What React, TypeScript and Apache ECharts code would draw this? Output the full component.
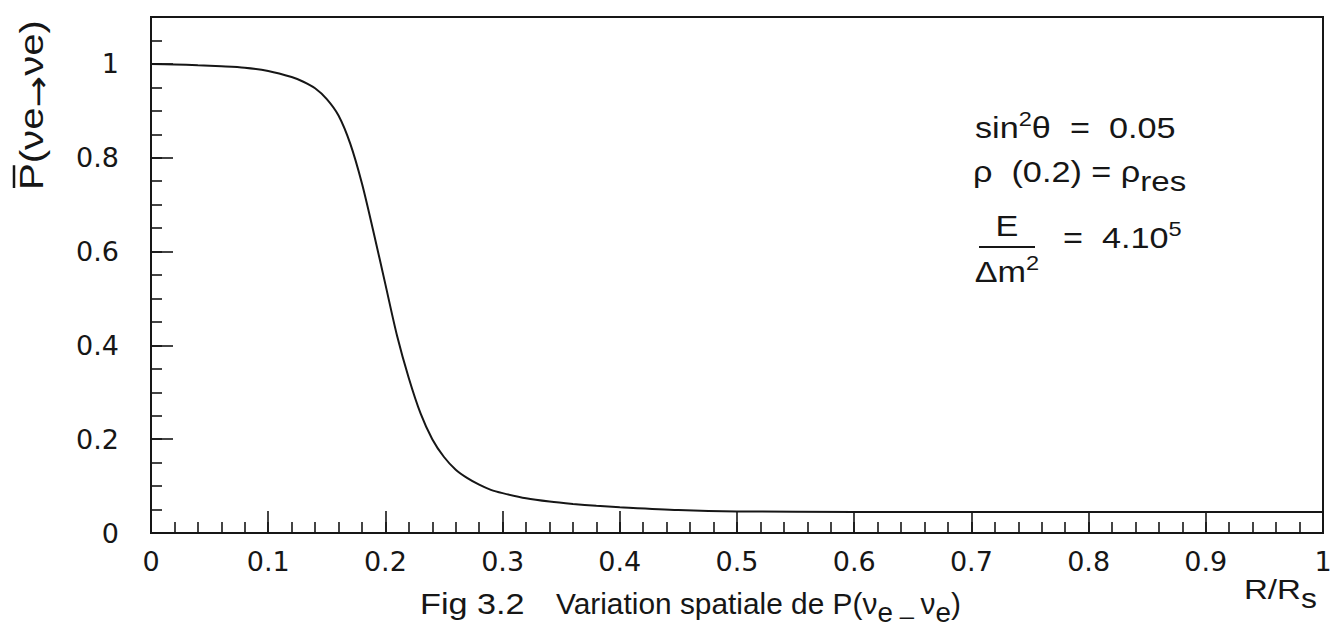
import React, { useEffect, useRef } from "react";
import * as echarts from "echarts";

// ---- data ----
const rValues = [0, 0.02, 0.04, 0.06, 0.08, 0.1, 0.12, 0.13, 0.14, 0.15, 0.16, 0.17, 0.18, 0.19, 0.2, 0.21, 0.22, 0.23, 0.24, 0.25, 0.26, 0.27, 0.28, 0.29, 0.3, 0.32, 0.34, 0.36, 0.38, 0.4, 0.45, 0.5, 0.6, 0.7, 0.8, 0.9, 1.0];
const pValues = [1.0, 0.999, 0.997, 0.995, 0.992, 0.985, 0.972, 0.962, 0.948, 0.925, 0.89, 0.83, 0.745, 0.64, 0.53, 0.42, 0.33, 0.255, 0.2, 0.162, 0.135, 0.117, 0.103, 0.092, 0.085, 0.074, 0.067, 0.062, 0.058, 0.055, 0.049, 0.046, 0.045, 0.045, 0.045, 0.045, 0.045];
const xMajorTicks = [0, 0.1, 0.2, 0.3, 0.4, 0.5, 0.6, 0.7, 0.8, 0.9, 1];
const yMajorTicks = [0, 0.2, 0.4, 0.6, 0.8, 1];

const FONT = '"Liberation Sans", Arial, Helvetica, sans-serif';
const TICK_FONT = '"DejaVu Sans", "Liberation Sans", sans-serif';
const INK = "#161616";
const SX = 1.18; // the scanned figure is horizontally wide

type Frag = { t: string; s: number; dy?: number; f?: string };

let measureCtx: CanvasRenderingContext2D | null = null;
function tw(text: string, size: number, font: string = FONT): number {
  if (!measureCtx) measureCtx = document.createElement("canvas").getContext("2d");
  measureCtx!.font = `${size}px ${font}`;
  return measureCtx!.measureText(text).width;
}

function lineOf(frags: Frag[], x0: number, y0: number, align: "left" | "center" | "right" = "left", sx = SX): any[] {
  const widths = frags.map((f) => tw(f.t, f.s, f.f || FONT) * sx);
  const total = widths.reduce((a, b) => a + b, 0);
  let x = align === "left" ? x0 : align === "right" ? x0 - total : x0 - total / 2;
  return frags.map((f, i) => {
    const el = {
      type: "text",
      x,
      y: y0 + (f.dy || 0),
      scaleX: sx,
      silent: true,
      style: {
        text: f.t,
        fontSize: f.s,
        fontFamily: f.f || FONT,
        fill: INK,
        align: "left",
        verticalAlign: "middle",
      },
    };
    x += widths[i];
    return el;
  });
}

export default function App() {
  const ref = useRef<HTMLDivElement>(null);

  useEffect(() => {
    const chart = echarts.init(ref.current!, null, { renderer: "svg" });

    const data = rValues.map((r, i) => [r, pValues[i]]);

    const yNameFrags: Frag[] = [
      { t: "P", s: 34 },
      { t: "(νe", s: 34 },
      { t: "→", s: 32, dy: 7, f: TICK_FONT },
      { t: "νe)", s: 34 },
    ];
    const pW = tw("P", 34) * SX;

    const graphics: any[] = [
      // y-axis name, rotated
      {
        type: "group",
        x: 31,
        y: 190,
        rotation: Math.PI / 2,
        children: [
          ...lineOf(yNameFrags, 0, 0, "left"),
          { type: "line", shape: { x1: 2, y1: -17, x2: pW - 2, y2: -17 }, style: { stroke: INK, lineWidth: 2.5 } },
        ],
      },
      // x-axis name
      ...lineOf([{ t: "R/R", s: 28 }, { t: "s", s: 27, dy: 9 }], 1244, 589, "left"),
      // caption
      ...lineOf([{ t: "Fig 3.2", s: 29 }], 420, 604, "left"),
      ...lineOf(
        [
          { t: "Variation spatiale de P(ν", s: 29 },
          { t: "e", s: 27, dy: 9 },
          { t: " _ ", s: 24, dy: 2 },
          { t: "ν", s: 29 },
          { t: "e", s: 27, dy: 9 },
          { t: ")", s: 29 },
        ],
        556,
        604,
        "left",
        1.03
      ),
      // annotations
      ...lineOf([{ t: "sin", s: 29 }, { t: "2", s: 20, dy: -9 }, { t: "θ  =  0.05", s: 29 }], 975, 128, "left"),
      ...lineOf([{ t: "ρ  (0.2) = ρ", s: 29 }, { t: "res", s: 28, dy: 9 }], 973, 172, "left"),
      ...lineOf([{ t: "E", s: 29 }], 1007, 226, "center"),
      { type: "line", shape: { x1: 979, y1: 247, x2: 1035, y2: 247 }, style: { stroke: INK, lineWidth: 2 } },
      ...lineOf([{ t: "Δm", s: 29 }, { t: "2", s: 20, dy: -9 }], 1007, 272, "center"),
      ...lineOf([{ t: "=  4.10", s: 29 }, { t: "5", s: 20, dy: -9 }], 1063, 238, "left"),
    ];

    const axisLineStyle = { color: INK, width: 2 };
    const tickStyle = { color: INK, width: 1.6 };

    chart.setOption({
      animation: false,
      backgroundColor: "#ffffff",
      grid: {
        left: 151,
        right: 14,
        top: 17,
        bottom: 99,
        show: true,
        borderColor: INK,
        borderWidth: 2,
        backgroundColor: "transparent",
        containLabel: false,
      },
      xAxis: [
        {
          type: "value",
          min: 0,
          max: 1,
          interval: 0.1,
          position: "bottom",
          axisLine: { show: true, lineStyle: axisLineStyle },
          axisTick: { show: true, inside: true, length: 22, lineStyle: tickStyle },
          axisLabel: {
            show: true,
            margin: 15,
            fontSize: 27,
            fontFamily: TICK_FONT,
            color: INK,
            formatter: (v: number) => {
              const k = xMajorTicks.find((t) => Math.abs(t - v) < 1e-9);
              return k === undefined ? "" : String(k);
            },
          },
          splitLine: { show: false },
        },
        {
          type: "value",
          min: 0,
          max: 1,
          interval: 0.02,
          position: "bottom",
          axisLine: { show: false },
          axisTick: { show: true, inside: true, length: 11, lineStyle: tickStyle },
          axisLabel: { show: false },
          splitLine: { show: false },
        },
      ],
      yAxis: [
        {
          type: "value",
          min: 0,
          max: 1.1,
          interval: 0.2,
          position: "left",
          axisLine: { show: true, lineStyle: axisLineStyle },
          axisTick: { show: true, inside: true, length: 22, lineStyle: tickStyle },
          axisLabel: {
            show: true,
            margin: 32,
            fontSize: 27,
            fontFamily: TICK_FONT,
            color: INK,
            showMaxLabel: false,
            formatter: (v: number) => {
              const k = yMajorTicks.find((t) => Math.abs(t - v) < 1e-9);
              return k === undefined ? "" : String(k);
            },
          },
          splitLine: { show: false },
        },
        {
          type: "value",
          min: 0,
          max: 1.1,
          interval: 0.05,
          position: "left",
          axisLine: { show: false },
          axisTick: { show: true, inside: true, length: 11, lineStyle: tickStyle },
          axisLabel: { show: false },
          splitLine: { show: false },
        },
      ],
      series: [
        {
          type: "line",
          xAxisIndex: 0,
          yAxisIndex: 0,
          data,
          showSymbol: false,
          smooth: 0.3,
          lineStyle: { color: INK, width: 2 },
          silent: true,
        },
      ],
      graphic: graphics,
    });

    return () => chart.dispose();
  }, []);

  return (
    <div
      ref={ref}
      style={{ position: "fixed", left: 0, top: 0, width: 1337, height: 632, background: "#fff" }}
    />
  );
}
